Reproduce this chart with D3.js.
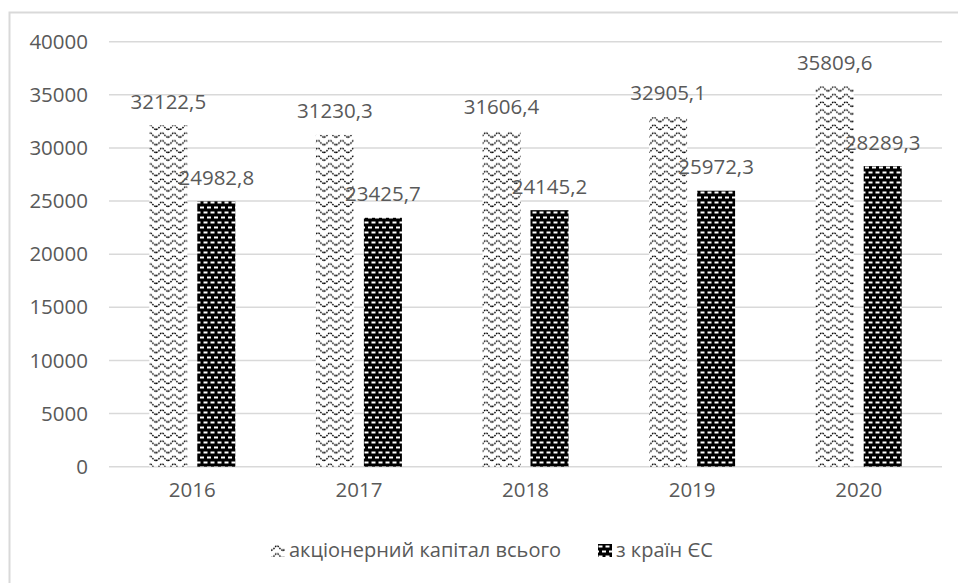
<!DOCTYPE html>
<html><head><meta charset="utf-8">
<script src="https://cdn.jsdelivr.net/npm/d3@7"></script>
<style>html,body{margin:0;padding:0;background:#fff;}svg{display:block;}</style>
</head><body>
<svg id="c" width="958" height="583"></svg>
<script>
const years = ["2016","2017","2018","2019","2020"];
const seriesNames = ["акціонерний капітал всього","з країн ЄС"];
const totalCapital = [32122.5, 31230.3, 31606.4, 32905.1, 35809.6];
const euCapital = [24982.8, 23425.7, 24145.2, 25972.3, 28289.3];
const yTicks = [0,5000,10000,15000,20000,25000,30000,35000,40000];

const seriesValues = [totalCapital, euCapital];
const svg = d3.select("#c");
const FONT = "'Open Sans', sans-serif";
const TXT = "#595959";

// patterns
const defs = svg.append("defs");
const pw = defs.append("pattern").attr("id","wave").attr("patternUnits","userSpaceOnUse")
  .attr("width",12).attr("height",7.7);
pw.append("rect").attr("width",12).attr("height",7.7).attr("fill","#fff");
pw.append("path").attr("d","M0,6.2 C3,6.2 4,1.8 6,1.8 C8,1.8 9,6.2 12,6.2")
  .attr("fill","none").attr("stroke","#000").attr("stroke-width",1.4).attr("stroke-dasharray","1.6 1.1");
const pd = defs.append("pattern").attr("id","dots").attr("patternUnits","userSpaceOnUse")
  .attr("width",7).attr("height",10);
pd.append("rect").attr("width",7).attr("height",10).attr("fill","#000");
pd.append("rect").attr("x",0.5).attr("y",1.5).attr("width",4).attr("height",2).attr("fill","#fff");
pd.append("rect").attr("x",4).attr("y",6.5).attr("width",4).attr("height",2).attr("fill","#fff");
pd.append("rect").attr("x",-3).attr("y",6.5).attr("width",4).attr("height",2).attr("fill","#fff");
const fills = ["url(#wave)","url(#dots)"];

// frame
svg.append("rect").attr("x",9.5).attr("y",12.5).attr("width",970).attr("height",600)
  .attr("fill","none").attr("stroke","#d9d9d9").attr("stroke-width",2);

const x0 = d3.scaleBand().domain(years).range([109, 942]).paddingInner(0).paddingOuter(0);
const groupW = 86;
const x1 = d3.scaleBand().domain([0,1]).range([0, groupW]).paddingInner(0.2083).paddingOuter(0);
const y = d3.scaleLinear().domain([0,40000]).range([466.7, 41.7]);

// gridlines
svg.append("g").selectAll("line").data(yTicks).join("line")
  .attr("x1",109).attr("x2",942)
  .attr("y1",d=>y(d)).attr("y2",d=>y(d))
  .attr("stroke","#d9d9d9").attr("stroke-width",1.5);

// y axis labels
const yAxis = d3.axisLeft(y).tickValues(yTicks).tickSize(0).tickPadding(0).tickFormat(d3.format("d"));
const gy = svg.append("g").attr("transform","translate(88,0)").call(yAxis);
gy.select(".domain").remove();
gy.selectAll("text").attr("font-family",FONT).attr("font-size",20.5).attr("fill",TXT);

// x axis labels
const xAxis = d3.axisBottom(x0).tickSize(0).tickPadding(0);
const gx = svg.append("g").attr("transform","translate(0,482)").call(xAxis);
gx.select(".domain").remove();
gx.selectAll("text").attr("font-family",FONT).attr("font-size",20.5).attr("fill",TXT).attr("dy","0.71em");

// bars
const rows = [];
years.forEach((yr,i)=>seriesValues.forEach((vals,s)=>rows.push({yr,s,v:vals[i]})));
const off = (x0.bandwidth()-groupW)/2;
svg.append("g").selectAll("rect").data(rows).join("rect")
  .attr("x",d=>x0(d.yr)+off+x1(d.s))
  .attr("width",x1.bandwidth())
  .attr("y",d=>y(d.v))
  .attr("height",d=>y(0)-y(d.v))
  .attr("fill",d=>fills[d.s]);

// labels
svg.append("g").selectAll("text").data(rows).join("text")
  .attr("x",d=>x0(d.yr)+off+x1(d.s)+x1.bandwidth()/2)
  .attr("y",d=>y(d.v)-24)
  .attr("dy","0.36em")
  .attr("text-anchor","middle")
  .attr("font-family",FONT).attr("font-size",20.5).attr("fill",TXT)
  .text(d=>String(d.v).replace(".",","));

// legend
const legX = [271, 598];
const lg = svg.append("g").selectAll("g").data(seriesNames).join("g")
  .attr("transform",(d,i)=>`translate(${legX[i]},544)`);
lg.append("rect").attr("width",14).attr("height",13).attr("fill",(d,i)=>fills[i]);
lg.append("text").attr("x",18).attr("y",13)
  .attr("font-family",FONT).attr("font-size",20).attr("fill",TXT)
  .text(d=>d);
</script>
</body></html>
